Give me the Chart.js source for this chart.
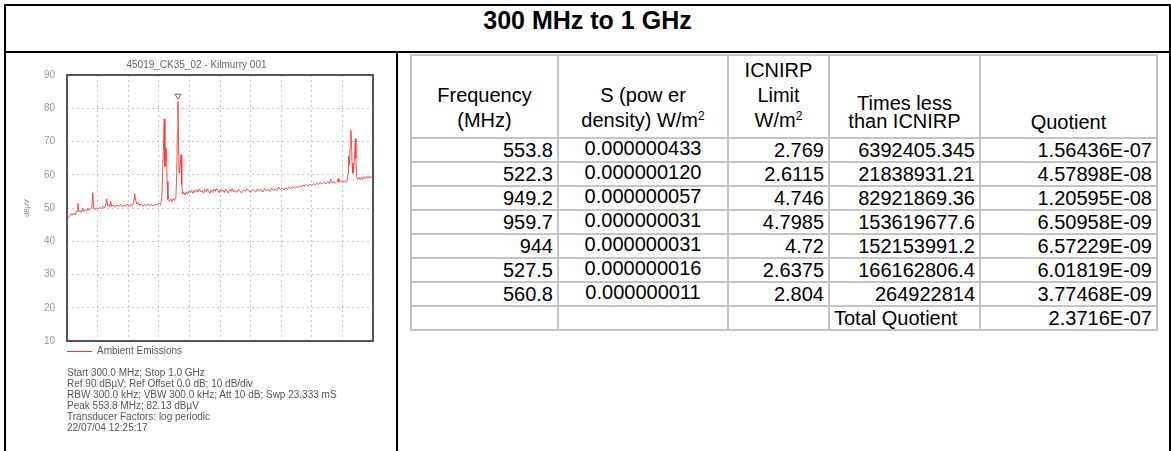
<!DOCTYPE html>
<html>
<head>
<meta charset="utf-8">
<script src="https://cdn.jsdelivr.net/npm/chart.js@4.4.1/dist/chart.umd.min.js"></script>
<style>
  body { margin: 0; width: 1171px; height: 451px; background: #fff; overflow: hidden; position: relative;
         font-family: "Liberation Sans", Arial, sans-serif; color: #000; }
  #frame { position: absolute; left: 4px; top: 4px; width: 1163px; height: 460px; border: 2px solid #000; border-bottom: none; }
  #titleLine { position: absolute; left: 4px; top: 51px; width: 1167px; height: 2px; background: #000; }
  #divider { position: absolute; left: 396px; top: 52px; width: 2px; height: 400px; background: #000; }
  #title { position: absolute; left: 6px; top: 6px; width: 1163px; text-align: center; font-weight: bold; font-size: 25px; line-height: 28px; }
  #specBox { position: absolute; left: 8px; top: 56px; width: 370px; height: 303px; }
  #legend { position: absolute; left: 67px; top: 345px; height: 12px; font-size: 10px; color: #555; line-height: 12px; }
  #legend .swatch { position: absolute; left: 0; top: 6px; width: 25px; height: 1px; background: #ff3030; }
  #legend .txt { position: absolute; left: 30px; top: 0; white-space: nowrap; }
  #info { position: absolute; left: 67px; top: 368px; font-size: 10px; line-height: 10.9px; color: #555; white-space: nowrap; }
  #tbl { position: absolute; left: 410px; top: 54px; border-collapse: collapse; table-layout: fixed; width: 746px; font-size: 20px; }
  #tbl td { border: 2px solid #c4c4c4; padding: 0 4px; line-height: 22px; height: 20px; white-space: nowrap; }
  #tbl tr.head td { height: 74px; text-align: center; vertical-align: bottom; padding-bottom: 4px; }
  #tbl tr.head td.l25 { line-height: 25px; }
  #tbl tr.head td.l18 { line-height: 18px; padding-bottom: 7px; }
  #tbl td.r { text-align: right; }
  #tbl td.c { text-align: center; vertical-align: top; line-height: 19px; }
  #tbl td.lft { text-align: left; }
  sup { font-size: 12px; line-height: 0; vertical-align: 7px; }
</style>
</head>
<body>
<div id="frame"></div>
<div id="titleLine"></div>
<div id="divider"></div>
<div id="title">300 MHz to 1 GHz</div>

<div id="specBox"><canvas id="spec" width="370" height="303"></canvas></div>
<div id="legend"><span class="swatch"></span><span class="txt">Ambient Emissions</span></div>
<div id="info">
  Start 300.0 MHz; Stop 1.0 GHz<br>
  Ref 90 dBµV; Ref Offset 0.0 dB; 10 dB/div<br>
  RBW 300.0 kHz; VBW 300.0 kHz; Att 10 dB; Swp 23.333 mS<br>
  Peak 553.8 MHz; 82.13 dBµV<br>
  Transducer Factors: log periodic<br>
  22/07/04 12:25:17
</div>

<table id="tbl">
  <colgroup><col style="width:147px"><col style="width:170px"><col style="width:101px"><col style="width:151px"><col style="width:177px"></colgroup>
  <tbody id="tbody"></tbody>
</table>

<script>
// spectrum trace, 300 MHz .. 1 GHz
const freqMHz = [
  300, 303, 306, 309, 312, 315, 318, 321, 323, 325, 327, 330, 333, 336, 339, 342, 345, 348, 351, 354,
  357, 359, 361, 364, 367, 370, 374, 378, 382, 386, 389, 391, 393, 396, 398, 400, 402, 406, 410, 414,
  418, 422, 426, 430, 434, 438, 442, 446, 450, 453, 455, 457, 460, 463, 466, 470, 474, 478, 482, 486,
  490, 494, 498, 502, 506, 510, 514, 517, 519, 520.5, 522.3, 524, 525.5, 527.5, 529, 531, 534, 537, 540, 543,
  546, 549, 551, 552.5, 553.8, 555, 556.5, 558.5, 560.8, 562.5, 564.5, 567, 570, 573, 576, 579, 582, 585, 588, 591,
  594, 597, 600, 603, 606, 609, 612, 615, 618, 621, 624, 627, 630, 633, 636, 639, 642, 645, 648, 651,
  654, 657, 660, 663, 666, 669, 672, 675, 678, 681, 684, 688, 692, 696, 700, 704, 708, 712, 716, 720,
  724, 728, 732, 736, 740, 744, 748, 752, 756, 760, 764, 768, 772, 776, 780, 784, 788, 792, 796, 800,
  804, 808, 812, 816, 820, 824, 828, 832, 836, 840, 844, 848, 852, 856, 860, 864, 868, 872, 876, 880,
  884, 888, 892, 896, 900, 903, 906, 910, 914, 918, 920, 922, 926, 930, 934, 938, 941, 943, 944, 946,
  947.5, 949.2, 950.5, 952, 954, 956, 958, 959.7, 961, 962.5, 965, 968, 971, 974, 977, 980, 983, 986, 989, 992,
  995, 998, 1000
];
const levelDbuV = [
  47.4, 47.1, 47.6, 48.3, 47.8, 48.5, 47.9, 48.6, 49.2, 51.4, 48.8, 49.3, 48.7, 49.8, 49.0, 49.5, 49.1, 49.9, 49.3, 49.7,
  50.3, 54.6, 50.0, 49.5, 50.1, 49.6, 50.2, 49.8, 50.5, 50.0, 51.2, 52.8, 50.6, 51.0, 50.4, 52.0, 50.5, 50.9, 50.2, 50.9,
  50.5, 51.1, 50.4, 50.8, 50.6, 51.2, 50.6, 51.0, 50.8, 52.1, 54.3, 52.4, 51.2, 51.7, 50.8, 51.3, 50.6, 51.1, 50.6, 51.3,
  50.7, 51.1, 50.5, 51.2, 50.9, 51.5, 51.0, 53.0, 62.0, 67.5, 76.7, 62.5, 68.2, 67.6, 58.0, 52.6, 52.0, 52.7, 51.9, 52.9,
  52.3, 53.1, 60.0, 72.5, 82.1, 71.8, 60.5, 62.0, 66.0, 57.0, 54.2, 54.7, 53.9, 54.9, 54.2, 55.1, 54.6, 55.3, 54.4, 55.4,
  54.7, 55.5, 54.8, 55.7, 54.9, 55.3, 54.5, 55.6, 54.9, 55.8, 55.1, 54.5, 55.4, 54.7, 55.7, 55.0, 55.9, 55.2, 54.6, 55.6,
  55.0, 55.4, 54.7, 55.7, 55.1, 54.5, 55.5, 55.0, 55.8, 54.8, 55.3, 54.7, 55.6, 55.0, 54.6, 55.5, 55.0, 55.7, 55.1, 54.7,
  55.6, 55.2, 54.8, 55.7, 55.1, 55.5, 54.8, 55.8, 55.2, 55.6, 55.0, 55.9, 55.3, 55.7, 55.2, 56.3, 55.5, 56.0, 55.4, 56.1,
  55.7, 56.3, 55.8, 56.4, 56.0, 56.5, 56.1, 56.7, 56.3, 56.9, 56.5, 57.0, 56.6, 57.2, 56.8, 57.3, 56.9, 57.4, 57.1, 57.6,
  57.2, 57.7, 57.3, 57.9, 57.4, 58.6, 57.6, 58.0, 57.5, 58.1, 58.8, 57.8, 58.2, 57.7, 58.1, 57.8, 58.3, 60.5, 65.5, 63.0,
  68.0, 73.4, 71.0, 63.5, 60.5, 62.0, 66.0, 70.8, 65.0, 59.5, 58.6, 59.1, 58.5, 59.2, 58.7, 59.4, 58.9, 59.5, 59.0, 59.6,
  59.1, 59.4, 59.2
];
const yTicks = [10, 20, 30, 40, 50, 60, 70, 80, 90];
const peakFreq = 553.8;
const peakLevel = 82.13;

// table rows
const rowFreq = ["553.8", "522.3", "949.2", "959.7", "944", "527.5", "560.8"];
const rowS = ["0.000000433", "0.000000120", "0.000000057", "0.000000031", "0.000000031", "0.000000016", "0.000000011"];
const rowLimit = ["2.769", "2.6115", "4.746", "4.7985", "4.72", "2.6375", "2.804"];
const rowTimes = ["6392405.345", "21838931.21", "82921869.36", "153619677.6", "152153991.2", "166162806.4", "264922814"];
const rowQuot = ["1.56436E-07", "4.57898E-08", "1.20595E-08", "6.50958E-09", "6.57229E-09", "6.01819E-09", "3.77468E-09"];
const totalQuotient = "2.3716E-07";

function buildTable() {
  const head = `
    <tr class="head">
      <td class="l25">Frequency<br>(MHz)</td>
      <td class="l25">S (pow er<br>density) W/m<sup>2</sup></td>
      <td class="l25">ICNIRP<br>Limit<br>W/m<sup>2</sup></td>
      <td class="l18">Times less<br>than ICNIRP</td>
      <td>Quotient</td>
    </tr>`;
  const rows = rowFreq.map((f, i) => `
    <tr>
      <td class="r">${f}</td>
      <td class="c">${rowS[i]}</td>
      <td class="r">${rowLimit[i]}</td>
      <td class="r">${rowTimes[i]}</td>
      <td class="r">${rowQuot[i]}</td>
    </tr>`).join("");
  const total = `
    <tr>
      <td></td><td></td><td></td>
      <td class="lft">Total Quotient</td>
      <td class="r">${totalQuotient}</td>
    </tr>`;
  document.getElementById("tbody").innerHTML = head + rows + total;
}

// box round the plot + peak marker
const framePlugin = {
  id: "frame",
  afterDatasetsDraw(chart) {
    const { ctx, chartArea: a, scales } = chart;
    ctx.save();
    ctx.strokeStyle = "#555";
    ctx.lineWidth = 2;
    ctx.strokeRect(a.left, a.top, a.right - a.left, a.bottom - a.top);
    const px = scales.x.getPixelForValue(peakFreq);
    const py = scales.y.getPixelForValue(peakLevel);
    ctx.lineWidth = 1;
    ctx.strokeStyle = "#666";
    ctx.beginPath();
    ctx.moveTo(px - 3, py - 7);
    ctx.lineTo(px + 3, py - 7);
    ctx.lineTo(px, py - 2);
    ctx.closePath();
    ctx.stroke();
    ctx.restore();
  }
};

function drawSpectrum() {
  new Chart(document.getElementById("spec"), {
    type: "line",
    data: {
      datasets: [{
        label: "Ambient Emissions",
        data: freqMHz.map((f, i) => ({ x: f, y: levelDbuV[i] })),
        borderColor: "rgba(255,45,45,0.85)",
        borderWidth: 1,
        pointRadius: 0,
        tension: 0,
      }],
    },
    options: {
      responsive: false,
      animation: false,
      devicePixelRatio: 1,
      layout: { padding: { left: 12, right: 5, top: 0, bottom: 8 } },
      plugins: {
        legend: { display: false },
        tooltip: { enabled: false },
        title: {
          display: true,
          text: "45019_CK35_02 - Kilmurry 001",
          color: "#666",
          font: { size: 10, weight: "normal", family: "Liberation Sans" },
          padding: { top: 3, bottom: 4 },
        },
      },
      scales: {
        x: {
          type: "linear",
          min: 300,
          max: 1000,
          ticks: { display: false, stepSize: 70 },
          grid: { color: "#c4c4c4", drawTicks: false },
          border: { display: false, dash: [2, 3] },
        },
        y: {
          min: yTicks[0],
          max: yTicks[yTicks.length - 1],
          afterBuildTicks: (s) => { s.ticks = yTicks.map((v) => ({ value: v })); },
          afterFit: (s) => { s.width = 47; },
          ticks: { color: "#999", font: { size: 10, family: "Liberation Sans" }, padding: 12 },
          grid: { color: "#c4c4c4", drawTicks: false },
          border: { display: false, dash: [2, 3] },
          title: { display: true, text: "dBµV", color: "#888", font: { size: 7, family: "Liberation Sans" }, padding: { top: 3, bottom: 0 } },
        },
      },
    },
    plugins: [framePlugin],
  });
}

buildTable();
drawSpectrum();
</script>
</body>
</html>
